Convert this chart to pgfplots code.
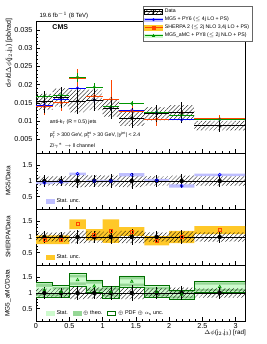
\documentclass[border=0pt]{standalone}
\usepackage{fontspec}
\setmainfont{Liberation Sans}
\usepackage{pgfplots}
\pgfplotsset{compat=1.18}
\usepackage{pgfplotstable}
\usepgfplotslibrary{fillbetween}
\usetikzlibrary{patterns.meta}

\definecolor{mgblue}{RGB}{0,0,255}
\definecolor{mgband}{RGB}{190,190,255}
\definecolor{shline}{RGB}{255,69,0}
\definecolor{shband}{RGB}{255,200,40}
\definecolor{amline}{RGB}{0,150,0}
\definecolor{amstat}{RGB}{205,250,205}
\definecolor{amtheo}{RGB}{150,215,150}
\definecolor{amout}{RGB}{0,110,0}

% lo: bin low edge (last row = upper edge of last bin), c: centre, hw: half width
% d: data, st/sy: relative stat/syst unc.; mg, sh, am: MC/Data ratios with their band half-widths
\pgfplotstableread{
lo     c      hw     d       st    sy    mg    mgs   sh    shs   am    ams   amt   amp
0      0.125  0.125  0.0153  0.20  0.14  0.94  0.04  0.91  0.14  1.10  0.10  0.20  0.25
0.25   0.375  0.125  0.0165  0.17  0.15  0.97  0.04  0.91  0.14  1.04  0.08  0.15  0.19
0.5    0.625  0.125  0.0155  0.23  0.20  1.23  0.04  1.41  0.16  1.42  0.08  0.16  0.20
0.75   0.875  0.125  0.0158  0.20  0.18  1.00  0.04  1.07  0.18  1.22  0.08  0.16  0.20
1.0    1.125  0.125  0.0135  0.22  0.17  1.00  0.04  1.19  0.38  1.03  0.08  0.15  0.19
1.25   1.44   0.19   0.0108  0.25  0.20  1.20  0.05  1.18  0.14  1.37  0.07  0.14  0.18
1.63   1.815  0.185  0.0120  0.20  0.15  1.02  0.05  0.88  0.15  1.04  0.08  0.15  0.19
2.0    2.19   0.19   0.0123  0.23  0.17  0.84  0.05  1.00  0.20  0.95  0.06  0.12  0.15
2.38   2.761  0.381  0.0087  0.20  0.15  1.20  0.04  1.22  0.13  1.20  0.07  0.14  0.17
3.1416 2.761  0.381  0.0087  0.20  0.15  1.20  0.04  1.22  0.13  1.20  0.07  0.14  0.17
}\tab

\tikzset{
  hatch/.style={pattern={Lines[angle=45, distance=3pt, line width=0.33pt]}},
  txt/.style={anchor=west, inner sep=0pt, font=\fontsize{5.2}{6}\selectfont},
}

\newcommand{\band}[4]{%
  \addplot[name path=#4U, const plot, draw=none, forget plot] table[x=lo, y expr=#1] {\tab};
  \addplot[name path=#4L, const plot, draw=none, forget plot] table[x=lo, y expr=#2] {\tab};
  \addplot[#3, forget plot] fill between[of=#4U and #4L];
}

\pgfplotsset{
  rootax/.style={
    scale only axis, width=209pt, xmin=0, xmax=3.1416,
    anchor=south west,
    axis line style={line width=0.6pt},
    tick align=inside, xtick pos=bottom, ytick pos=left,
    major tick length=4pt, minor tick length=2pt,
    xtick={0,0.5,1,1.5,2,2.5,3}, minor x tick num=4,
    minor y tick num=4,
    tick style={line width=0.4pt, black},
    tick label style={font=\fontsize{7.2}{8}\selectfont},
    xticklabel style={yshift=1pt},
    /pgf/number format/assume math mode=true,
    scaled y ticks=false,
  },
  ratioax/.style={rootax, height=56pt, ymin=0.1, ymax=1.9,
    ytick={0.5,1,1.5}, yticklabels={0.5,1,1.5}},
  rleg/.style={legend style={at={(rel axis cs:0.045,0.04)}, anchor=south west,
    draw=none, fill=none,
    font=\fontsize{5.5}{6}\selectfont, inner sep=0.5pt,
    legend cell align=left,
    /tikz/every even column/.append style={column sep=3pt}}},
}

\begin{document}
\begin{tikzpicture}

% ---------------- main panel ----------------
\begin{axis}[rootax, at={(36pt,191pt)}, height=132pt,
  ymin=0.0012, ymax=0.0375,
  ytick={0.005,0.01,0.015,0.02,0.025,0.03,0.035},
  yticklabels={0.005,0.01,0.015,0.02,0.025,0.03,0.035},
  xticklabels={},
  legend style={at={(rel axis cs:0.512,1.114)}, anchor=north west,
    draw=black!60, fill=white, font=\fontsize{5.2}{5.6}\selectfont,
    inner sep=1pt, row sep=-1.2pt, legend cell align=left},
]
\addlegendimage{legend image code/.code={
  \fill[hatch] (0pt,-2.4pt) rectangle (18pt,2.4pt);
  \draw[black,line width=0.5pt] (0pt,0pt)--(18pt,0pt);
  \draw[black,line width=0.5pt] (9pt,-2.4pt)--(9pt,2.4pt);
  \fill[black] (9pt,0pt) circle (1.2pt);}}
\addlegendentry{Data}
\addlegendimage{legend image code/.code={
  \fill[mgband] (0pt,-1.6pt) rectangle (18pt,1.6pt);
  \draw[mgblue,line width=0.6pt] (0pt,0pt)--(18pt,0pt);
  \fill[mgblue] (9pt,0pt) circle (1.2pt);}}
\addlegendentry{MG5 + PY6 ($\leq$ 4j LO + PS)}
\addlegendimage{legend image code/.code={
  \fill[shband] (0pt,-2.2pt) rectangle (18pt,2.2pt);
  \draw[shline,line width=0.6pt] (0pt,0pt)--(18pt,0pt);
  \fill[shline] (7.8pt,-1.2pt) rectangle (10.2pt,1.2pt);}}
\addlegendentry{SHERPA 2 ($\leq$ 2j NLO 3,4j LO + PS)}
\addlegendimage{legend image code/.code={
  \fill[amstat] (0pt,-1.6pt) rectangle (18pt,1.6pt);
  \draw[amline,line width=0.6pt] (0pt,0pt)--(18pt,0pt);
  \fill[amline] (9pt,1.5pt)--(7.6pt,-1pt)--(10.4pt,-1pt)--cycle;}}
\addlegendentry{MG5\_aMC + PY8 ($\leq$ 2j NLO + PS)}

\band{\thisrow{d}*(1+\thisrow{sy})}{\thisrow{d}*(1-\thisrow{sy})}{hatch}{hm}

\addplot[only marks, mark=o, mark size=1.4pt, mgblue,
  error bars/.cd, x dir=both, x explicit, y dir=both, y explicit, error mark=none,
  error bar style={line width=0.6pt, mgblue}]
  table[x=c, y expr=\thisrow{d}*\thisrow{mg}, x error=hw, y error expr=\thisrow{d}*\thisrow{mgs},
  skip coords between index={9}{10}] {\tab};
\addplot[only marks, mark=o, mark size=1.4pt, shline,
  error bars/.cd, x dir=both, x explicit, y dir=both, y explicit, error mark=none,
  error bar style={line width=0.6pt, shline}]
  table[x=c, y expr=\thisrow{d}*\thisrow{sh}, x error=hw, y error expr=\thisrow{d}*\thisrow{shs},
  skip coords between index={9}{10}] {\tab};
\addplot[only marks, mark=o, mark size=1.4pt, amline,
  error bars/.cd, x dir=both, x explicit, y dir=both, y explicit, error mark=none,
  error bar style={line width=0.6pt, amline}]
  table[x=c, y expr=\thisrow{d}*\thisrow{am}, x error=hw, y error expr=\thisrow{d}*\thisrow{ams},
  skip coords between index={9}{10}] {\tab};
\addplot[only marks, mark=*, mark size=1.4pt, black,
  error bars/.cd, x dir=both, x explicit, y dir=both, y explicit, error mark=none,
  error bar style={line width=0.6pt, black}]
  table[x=c, y=d, x error=hw, y error expr=\thisrow{d}*\thisrow{st},
  skip coords between index={9}{10}] {\tab};

\node[anchor=west, font=\bfseries\fontsize{7}{8}\selectfont] at (rel axis cs:0.062,0.955) {CMS};
\node[txt] at (rel axis cs:0.065,0.236) {anti-k$_{\mathrm{T}}$ (R = 0.5) jets};
\node[txt] at (rel axis cs:0.065,0.135) {p$_{\mathrm{T}}^{\mathrm{Z}}$ > 300 GeV, p$_{\mathrm{T}}^{\mathrm{jet}}$ > 30 GeV, |y$^{\mathrm{jet}}$| < 2.4};
\node[txt] at (rel axis cs:0.065,0.058) {Z/$\gamma^{*}\rightarrow$ ll channel};
\end{axis}

% ---------------- MG5 / Data ----------------
\begin{axis}[ratioax, at={(36pt,135pt)}, xticklabels={}, rleg]
\addlegendimage{legend image code/.code={\fill[mgband] (0pt,-2.2pt) rectangle (8pt,2.2pt);}}
\addlegendentry{Stat. unc.}
\band{1+\thisrow{sy}}{1-\thisrow{sy}}{hatch}{ha}
\band{\thisrow{mg}+\thisrow{mgs}}{\thisrow{mg}-\thisrow{mgs}}{fill=mgband}{ba}
\addplot[black, line width=0.6pt, forget plot] coordinates {(0,1) (3.1416,1)};
\addplot[only marks, mark=none, black,
  error bars/.cd, y dir=both, y explicit, error mark=none, error bar style={line width=0.6pt, black}]
  table[x=c, y expr=1, y error=st, skip coords between index={9}{10}] {\tab};
\addplot[only marks, mark=o, mark size=1.5pt, mgblue, line width=0.6pt]
  table[x=c, y=mg, skip coords between index={9}{10}] {\tab};
\end{axis}

% ---------------- SHERPA / Data ----------------
\begin{axis}[ratioax, at={(36pt,79pt)}, xticklabels={}, rleg]
\addlegendimage{legend image code/.code={\fill[shband] (0pt,-2.2pt) rectangle (8pt,2.2pt);}}
\addlegendentry{Stat. unc.}
\band{\thisrow{sh}+\thisrow{shs}}{\thisrow{sh}-\thisrow{shs}}{fill=shband}{bb}
\band{1+\thisrow{sy}}{1-\thisrow{sy}}{hatch}{hb}
\addplot[black, line width=0.6pt, forget plot] coordinates {(0,1) (3.1416,1)};
\addplot[only marks, mark=none, black,
  error bars/.cd, y dir=both, y explicit, error mark=none, error bar style={line width=0.6pt, black}]
  table[x=c, y expr=1, y error=st, skip coords between index={9}{10}] {\tab};
\addplot[only marks, mark=square, mark size=1.5pt, shline, line width=0.6pt]
  table[x=c, y=sh, skip coords between index={9}{10}] {\tab};
\end{axis}

% ---------------- MG5_aMC / Data ----------------
\begin{axis}[ratioax, at={(36pt,23pt)},
  xticklabels={0,0.5,1,1.5,2,2.5,3},
  rleg, legend columns=3]
\addlegendimage{legend image code/.code={\fill[amstat] (0pt,-2.2pt) rectangle (8pt,2.2pt);}}
\addlegendentry{Stat.}
\addlegendimage{legend image code/.code={\fill[amtheo] (0pt,-2.2pt) rectangle (8pt,2.2pt);}}
\addlegendentry{$\oplus$ theo.}
\addlegendimage{legend image code/.code={\draw[amout, line width=0.7pt, fill=white] (0pt,-2.2pt) rectangle (8pt,2.2pt);}}
\addlegendentry{$\oplus$ PDF $\oplus$ $\alpha_{\mathrm{s}}$ unc.}
\band{\thisrow{am}+\thisrow{amp}}{\thisrow{am}-\thisrow{amp}}{fill=amstat}{bp}
\band{\thisrow{am}+\thisrow{amt}}{\thisrow{am}-\thisrow{amt}}{fill=amtheo}{bt}
\band{\thisrow{am}+\thisrow{ams}}{\thisrow{am}-\thisrow{ams}}{fill=amstat}{bs}
\addplot[const plot, amout, line width=0.7pt, forget plot] table[x=lo, y expr=\thisrow{am}+\thisrow{amp}] {\tab};
\addplot[const plot, amout, line width=0.7pt, forget plot] table[x=lo, y expr=\thisrow{am}-\thisrow{amp}] {\tab};
\band{1+\thisrow{sy}}{1-\thisrow{sy}}{hatch}{hc}
\addplot[black, line width=0.6pt, forget plot] coordinates {(0,1) (3.1416,1)};
\addplot[only marks, mark=none, black,
  error bars/.cd, y dir=both, y explicit, error mark=none, error bar style={line width=0.6pt, black}]
  table[x=c, y expr=1, y error=st, skip coords between index={9}{10}] {\tab};
\addplot[only marks, mark=triangle, mark size=1.6pt, amline, line width=0.6pt, forget plot]
  table[x=c, y=am, skip coords between index={9}{10}] {\tab};
\end{axis}

% ---------------- labels ----------------
\node[anchor=base west, font=\fontsize{6}{7}\selectfont] at (36pt,326pt) {19.6 fb$^{-1}$ (8 TeV)};
\node[rotate=90, anchor=east, font=\fontsize{7}{8}\selectfont] at (9pt,329pt) {d$\sigma$/d$\Delta\phi$(j$_{2}$,j$_{3}$) [pb/rad]};
\node[rotate=90, font=\fontsize{6.5}{7}\selectfont] at (8pt,163pt) {MG5/Data};
\node[rotate=90, font=\fontsize{6.5}{7}\selectfont] at (8pt,107pt) {SHERPA/Data};
\node[rotate=90, font=\fontsize{6.5}{7}\selectfont] at (8pt,51pt) {MG5\_aMC/Data};
\node[anchor=north east, inner sep=0pt, font=\fontsize{6.3}{7}\selectfont] at (246pt,14pt) {$\Delta\phi$(j$_{2}$,j$_{3}$) [rad]};

\pgfresetboundingbox
\path[use as bounding box] (0,0) rectangle (266pt,344pt);
\end{tikzpicture}
\end{document}
